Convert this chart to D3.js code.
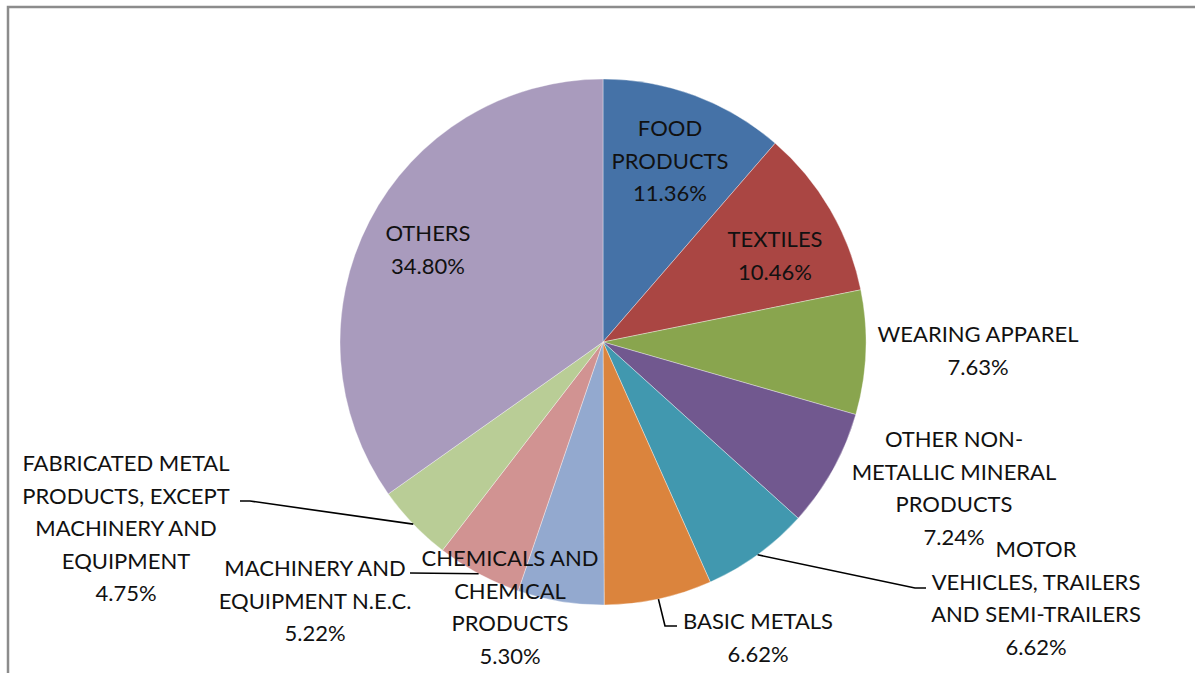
<!DOCTYPE html>
<html>
<head>
<meta charset="utf-8">
<script src="https://cdn.jsdelivr.net/npm/d3@7"></script>
<style>
	body { margin: 0; background: #fff; }
	text { font-family: Lato, "Open Sans", sans-serif; fill: #111; }
</style>
</head>
<body>
<div id="chart"></div>
<script>
var WIDTH = 1195;
var HEIGHT = 673;

// data
var categories = [
	"FOOD PRODUCTS", "TEXTILES", "WEARING APPAREL",
	"OTHER NON-METALLIC MINERAL PRODUCTS",
	"MOTOR VEHICLES, TRAILERS AND SEMI-TRAILERS",
	"BASIC METALS", "CHEMICALS AND CHEMICAL PRODUCTS",
	"MACHINERY AND EQUIPMENT N.E.C.",
	"FABRICATED METAL PRODUCTS, EXCEPT MACHINERY AND EQUIPMENT",
	"OTHERS"
];
var shares = [11.36, 10.46, 7.63, 7.24, 6.62, 6.62, 5.30, 5.22, 4.75, 34.80];
var labelLines = [
	["FOOD", "PRODUCTS"],
	["TEXTILES"],
	["WEARING APPAREL"],
	["OTHER NON-", "METALLIC MINERAL", "PRODUCTS"],
	["MOTOR", "VEHICLES, TRAILERS", "AND SEMI-TRAILERS"],
	["BASIC METALS"],
	["CHEMICALS AND", "CHEMICAL", "PRODUCTS"],
	["MACHINERY AND", "EQUIPMENT N.E.C."],
	["FABRICATED METAL", "PRODUCTS, EXCEPT", "MACHINERY AND", "EQUIPMENT"],
	["OTHERS"]
];

var colors = ["#4572a7", "#aa4643", "#89a54e", "#71588f", "#4198af",
	"#db843d", "#93a9cf", "#d19392", "#b9cd96", "#a99bbd"];

// layout: label block centre x, first line y
var labelPos = [
	[670, 127], [775, 238], [978, 333], [954, 438], [1036, 548],
	[758, 620], [510, 557], [315, 567], [126, 462], [428, 232]
];
// leader elbows (after the start point on the pie edge)
var leaders = {
	4: [[915, 588], [926, 588]],
	5: [[665, 626], [677, 626]],
	7: [[410, 573]],
	8: [[250, 501], [240, 501]]
};

var cx = 603, cy = 342, radius = 263, lineGap = 32.5;

var svg = d3.select("#chart").append("svg")
	.attr("width", WIDTH)
	.attr("height", HEIGHT);

// frame
svg.append("path")
	.attr("d", `M8,${HEIGHT} L8,7 L${WIDTH},7`)
	.attr("fill", "none")
	.attr("stroke", "#8c8c8c")
	.attr("stroke-width", 2.5);

var g = svg.append("g").attr("transform", `translate(${cx},${cy})`);

var pie = d3.pie().sort(null).value(d => d);
var arcs = pie(shares);
var arc = d3.arc().innerRadius(0).outerRadius(radius);

g.selectAll(".slice")
	.data(arcs)
	.join("path")
	.attr("class", "slice")
	.attr("d", arc)
	.attr("fill", (d, i) => colors[i])
	.attr("stroke", "rgba(255,255,255,0.45)")
	.attr("stroke-width", 0.8);

// leader lines
Object.keys(leaders).forEach(k => {
	var a = arcs[k];
	var mid = (a.startAngle + a.endAngle) / 2;
	var start = [cx + radius * Math.sin(mid), cy - radius * Math.cos(mid)];
	svg.append("path")
		.attr("d", d3.line()([start].concat(leaders[k])))
		.attr("fill", "none")
		.attr("stroke", "#000")
		.attr("stroke-width", 1.6);
});

// labels
arcs.forEach((a, i) => {
	var lines = labelLines[i].concat([shares[i].toFixed(2) + "%"]);
	var t = svg.append("text")
		.attr("text-anchor", "middle")
		.attr("dominant-baseline", "central")
		.style("font-size", "22px");
	lines.forEach((ln, j) => {
		t.append("tspan")
			.attr("x", labelPos[i][0])
			.attr("y", labelPos[i][1] + j * lineGap)
			.text(ln);
	});
});
</script>
</body>
</html>
